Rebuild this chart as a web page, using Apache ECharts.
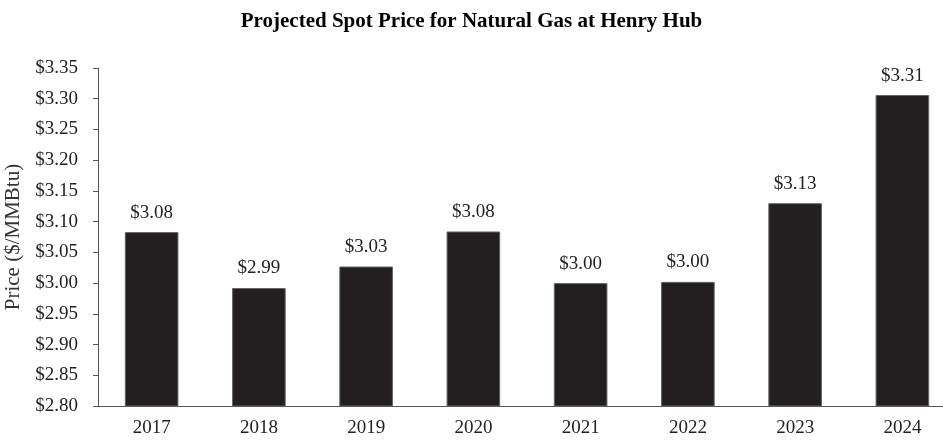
<!DOCTYPE html>
<html>
<head>
<meta charset="utf-8">
<script src="https://cdn.jsdelivr.net/npm/echarts@6/dist/echarts.min.js"></script>
<style>
  html, body { margin: 0; padding: 0; background: #fff; }
  #chart { width: 943px; height: 441px; }
</style>
</head>
<body>
<div id="chart"></div>
<script>
// 年份和价格
var years = ['2017', '2018', '2019', '2020', '2021', '2022', '2023', '2024'];
var prices = [3.083, 2.992, 3.027, 3.084, 3.000, 3.002, 3.130, 3.306];
var yMin = 2.80, yMax = 3.35, yStep = 0.05;

(function () {
  var myChart = echarts.init(document.getElementById('chart'));
  var font = '"Liberation Serif", "Times New Roman", serif';

  var option = {
    animation: false,
    title: {
      text: 'Projected Spot Price for Natural Gas at Henry Hub',
      left: 'center',
      top: 6,
      textStyle: { fontFamily: font, fontWeight: 'bold', fontSize: 21, color: '#000' }
    },
    // 右边故意超出画布，最后一根柱子贴边
    grid: { left: 98, width: 858, top: 68, bottom: 35, outerBoundsMode: 'none', containLabel: false },
    xAxis: {
      type: 'category',
      data: years,
      axisLine: { lineStyle: { color: '#555', width: 1 } },
      axisTick: { show: false },
      axisLabel: { fontFamily: font, fontSize: 19, color: '#222', margin: 13 }
    },
    yAxis: {
      type: 'value',
      min: yMin,
      max: yMax,
      interval: yStep,
      name: 'Price ($/MMBtu)',
      nameLocation: 'middle',
      nameGap: 67,
      nameTextStyle: { fontFamily: font, fontSize: 21, color: '#333' },
      axisLine: { show: true, lineStyle: { color: '#555', width: 1 } },
      axisTick: { show: true, length: 5, lineStyle: { color: '#555' } },
      splitLine: { show: false },
      axisLabel: {
        fontFamily: font, fontSize: 19, color: '#222', margin: 20,
        formatter: function (v) { return '$' + v.toFixed(2); }
      }
    },
    series: [{
      type: 'bar',
      data: prices,
      barWidth: '50%',
      itemStyle: { color: '#231f20', borderColor: '#666', borderWidth: 1 },
      label: {
        show: true,
        position: 'top',
        distance: 10,
        fontFamily: font, fontSize: 19, color: '#222',
        formatter: function (p) { return '$' + p.value.toFixed(2); }
      }
    }]
  };

  myChart.setOption(option);
  window.addEventListener('resize', function () { myChart.resize(); });
})();
</script>
</body>
</html>
